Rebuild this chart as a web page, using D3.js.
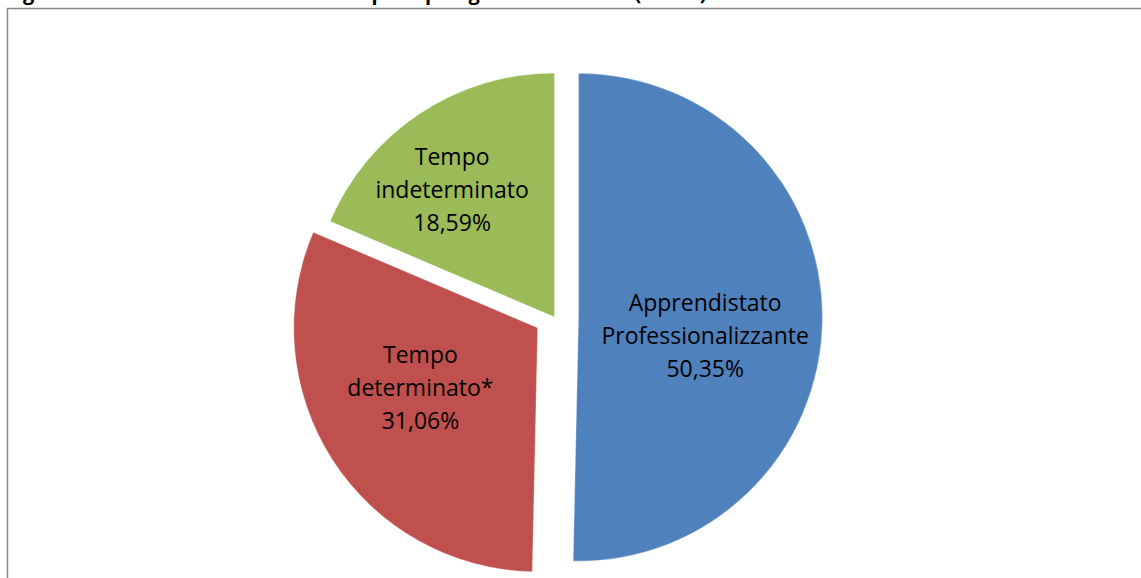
<!DOCTYPE html>
<html>
<head>
<meta charset="utf-8">
<script src="https://cdn.jsdelivr.net/npm/d3@7/dist/d3.min.js"></script>
<style>
  html, body { margin: 0; padding: 0; background: #fff; }
  svg { display: block; }
</style>
</head>
<body>
<svg id="chart" width="1141" height="578"></svg>
<script>
// chart data
const categories = ['Apprendistato Professionalizzante', 'Tempo determinato*', 'Tempo indeterminato'];
const values = [50.35, 31.06, 18.59];
const labelLines = [
  ['Apprendistato', 'Professionalizzante', '50,35%'],
  ['Tempo', 'determinato*', '31,06%'],
  ['Tempo', 'indeterminato', '18,59%']
];
const colors = ['#4F81BD', '#C0504D', '#9BBB59'];
const title = 'Figura 2 \u2013 Avviamenti totali nel 2013 per tipologia contrattuale (val. %)';

const width = 1141;
const height = 578;
const svg = d3.select('#chart');

// title sits above the picture edge, only descenders visible
svg.append('text')
  .attr('x', 6)
  .attr('y', 0)
  .attr('font-family', 'Open Sans, sans-serif')
  .attr('font-weight', 'bold')
  .attr('font-size', 20)
  .attr('fill', '#000')
  .text(title);

// chart frame (right and bottom edges fall outside the picture)
svg.append('rect')
  .attr('x', 7.5)
  .attr('y', 8.5)
  .attr('width', width + 20)
  .attr('height', height + 20)
  .attr('fill', 'none')
  .attr('stroke', '#868686')
  .attr('stroke-width', 1.5);

const cx = 554.5;
const cy = 317;
const radius = 244;
// slice explosion (px) and label placement per slice
const explode = [24, 20, 0];
const labelFrac = [0.525, 0.54, 0.67];
const labelShift = [7.9, 5.7, -5.3]; // degrees

const pie = d3.pie().sort(null).startAngle(0).endAngle(2 * Math.PI);
const arcs = pie(values);
const arc = d3.arc().innerRadius(0).outerRadius(radius);

const slices = svg.append('g')
  .attr('transform', `translate(${cx},${cy})`)
  .selectAll('g.slice')
  .data(arcs)
  .enter()
  .append('g')
  .classed('slice', true)
  .attr('transform', (d, i) => {
    const mid = (d.startAngle + d.endAngle) / 2;
    return `translate(${Math.sin(mid) * explode[i]},${-Math.cos(mid) * explode[i]})`;
  });

slices.append('path')
  .attr('d', arc)
  .attr('fill', (d, i) => colors[i])
  .attr('stroke', '#fff')
  .attr('stroke-width', 0.6)
  .attr('stroke-opacity', 0.6);

const lineHeight = 33;
slices.each(function(d, i) {
  const mid = (d.startAngle + d.endAngle) / 2 + labelShift[i] * Math.PI / 180;
  const r = radius * labelFrac[i];
  const lx = Math.sin(mid) * r;
  const ly = -Math.cos(mid) * r;
  const lines = labelLines[i];
  const t = d3.select(this).append('text')
    .attr('text-anchor', 'middle')
    .attr('font-family', 'Open Sans, sans-serif')
    .attr('font-size', 23)
    .attr('fill', '#000');
  lines.forEach((line, k) => {
    t.append('tspan')
      .attr('x', lx)
      .attr('y', ly + (k - (lines.length - 1) / 2) * lineHeight)
      .attr('dy', '0.35em')
      .text(line);
  });
});
</script>
</body>
</html>
